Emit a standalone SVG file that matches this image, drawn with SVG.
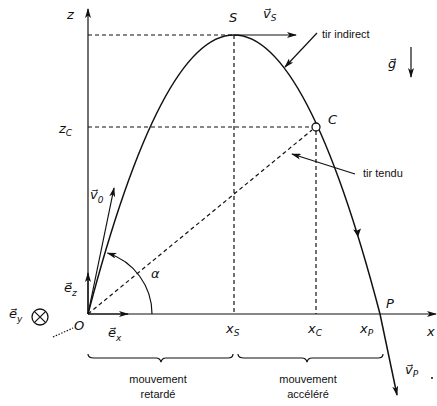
<svg xmlns="http://www.w3.org/2000/svg" width="437" height="406" viewBox="0 0 437 406">
<defs>
<marker id="ah" viewBox="0 0 10 6" refX="9" refY="3" markerWidth="10" markerHeight="6" markerUnits="userSpaceOnUse" orient="auto">
<path d="M0,0 L10,3 L0,6 L2.5,3 z" fill="#111"/>
</marker>
<style>
.ln{stroke:#111;stroke-width:1.2;fill:none}
.th{stroke:#111;stroke-width:1.5;fill:none}
.da{stroke:#111;stroke-width:1.2;fill:none;stroke-dasharray:4 3}
.t{font-family:"Liberation Sans",Arial,sans-serif;font-size:11px;fill:#111}
.v{font-family:"DejaVu Sans","Liberation Sans",sans-serif;font-style:italic;font-size:13px;fill:#111}
.s{font-size:9px}
</style>
</defs>
<rect width="437" height="406" fill="#fff"/>
<g id="connectors">
<path class="da" d="M88,35 H234 M88,127 H312 M234,35 V314 M316,131 V314 M88,314 L312,130"/>
<path class="ln" d="M88,314 V9" marker-end="url(#ah)"/>
<path class="ln" d="M88,314 H436" marker-end="url(#ah)"/>
<path class="th" d="M88,314 Q234,-244 380,314"/>
<path class="th" d="M380,314 L397,395" marker-end="url(#ah)"/>
<path d="M358,237 l-4.8,-7.5 l3.9,1.1 l3.9,-2.2 z" fill="#111"/>
<path class="ln" d="M234,35 H296" marker-end="url(#ah)"/>
<path class="ln" d="M88,314 L114,188" marker-end="url(#ah)"/>
<path class="ln" d="M152,314 A64,64 0 0 0 107.5,253" marker-end="url(#ah)"/>
<path class="ln" d="M88,314 V273" marker-end="url(#ah)"/>
<path class="ln" d="M88,314 H128" marker-end="url(#ah)"/>
<path class="ln" d="M317,33 L285,67" marker-end="url(#ah)"/>
<path class="ln" d="M355,174 L292,154" marker-end="url(#ah)"/>
<path class="ln" d="M411,47 V77" marker-end="url(#ah)"/>
<path class="ln" stroke-dasharray="1.5 1.5" d="M53,337 L73,328"/>
<path class="ln" d="M88,354 Q88,358 94,358 H156 Q160,358 161,362 Q162,358 166,358 H228 Q233,358 233,354"/>
<path class="ln" d="M238,354 Q238,358 244,358 H302 Q306,358 307,362 Q308,358 312,358 H378 Q383,358 383,354"/>
</g>
<g id="points">
<circle cx="316" cy="127" r="4" fill="#fff" stroke="#111" stroke-width="1.3"/>
<circle cx="40" cy="317" r="8" fill="#fff" stroke="#111" stroke-width="1.3"/>
<path class="ln" d="M34.3,311.3 L45.7,322.7 M45.7,311.3 L34.3,322.7"/>
<circle cx="432" cy="378" r="1" fill="#111"/>
</g>
<g id="labels">
<text class="v" x="67" y="19">z</text>
<text class="v" x="59" y="133">z<tspan class="s" dy="3">C</tspan></text>
<text class="v" x="229" y="22">S</text>
<text class="v" x="263" y="18">v⃗<tspan class="s" dy="3">S</tspan></text>
<text class="t" x="322" y="38">tir indirect</text>
<text class="v" x="388" y="68">g⃗</text>
<text class="v" x="328" y="124">C</text>
<text class="t" x="363" y="177">tir tendu</text>
<text class="v" x="90" y="199">v⃗<tspan class="s" dy="4">0</tspan></text>
<text class="v" x="151" y="278" font-style="normal">α</text>
<text class="v" x="64" y="292">e⃗<tspan class="s" dy="4">z</tspan></text>
<text class="v" x="9" y="318">e⃗<tspan class="s" dy="4">y</tspan></text>
<text class="v" x="74" y="330" font-style="normal">O</text>
<text class="v" x="108" y="337">e⃗<tspan class="s" dy="4">x</tspan></text>
<text class="v" x="226" y="333">x<tspan class="s" dy="3">S</tspan></text>
<text class="v" x="308" y="333">x<tspan class="s" dy="3">C</tspan></text>
<text class="v" x="360" y="333">x<tspan class="s" dy="3">P</tspan></text>
<text class="v" x="427" y="336">x</text>
<text class="v" x="386" y="308">P</text>
<text class="v" x="405" y="374">v⃗<tspan class="s" dy="3">P</tspan></text>
<text class="t" x="158" y="383" text-anchor="middle">mouvement</text>
<text class="t" x="158" y="398" text-anchor="middle">retardé</text>
<text class="t" x="308" y="383" text-anchor="middle">mouvement</text>
<text class="t" x="308" y="398" text-anchor="middle">accéléré</text>
</g>
</svg>
